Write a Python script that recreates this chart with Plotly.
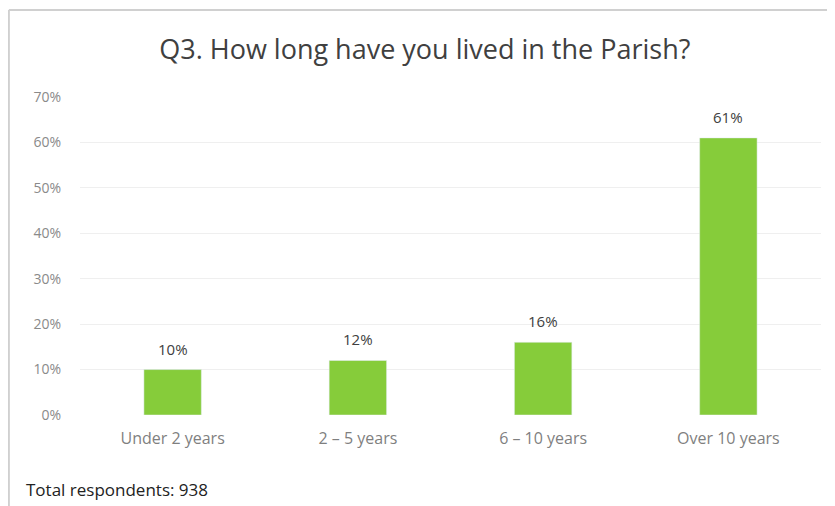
import plotly.graph_objects as go

# data
categories = ["Under 2 years", "2 \u2013 5 years", "6 \u2013 10 years", "Over 10 years"]
percentages = [10, 12, 16, 61]
tick_values = [0, 10, 20, 30, 40, 50, 60, 70]
tick_labels = ["0%", "10%", "20%", "30%", "40%", "50%", "60%", "70%"]

# the page body adds an 8px margin, so the figure is a little smaller
fig = go.Figure(
    go.Bar(
        x=categories,
        y=percentages,
        marker_color="#86CC3A",
        cliponaxis=False,
    )
)

# value labels above the bars
for cat, val in zip(categories, percentages):
    fig.add_annotation(
        x=cat, y=val, text=f"{val}%",
        yanchor="bottom", yshift=9, showarrow=False,
        font=dict(size=15, color="#404040"),
    )

fig.update_layout(
    width=827,
    height=498,
    margin=dict(l=72, r=14, t=89, b=91),
    paper_bgcolor="white",
    plot_bgcolor="white",
    font=dict(family="Open Sans, Lato, sans-serif"),
    bargap=0.69,
    showlegend=False,
    title=dict(
        text="Q3. How long have you lived in the Parish?",
        x=0.504,
        xanchor="center",
        y=0.916,
        yanchor="middle",
        font=dict(size=27, color="#404040"),
    ),
    xaxis=dict(
        tickfont=dict(size=16, color="#7f7f7f"),
        showline=False,
        ticks="",
        ticklabelstandoff=12,
    ),
    yaxis=dict(
        range=[0, 70],
        tickvals=tick_values,
        ticktext=tick_labels,
        tickfont=dict(size=14, color="#8a8a8a"),
        showgrid=True,
        gridcolor="#efefef",
        zeroline=False,
        ticklabelstandoff=18,
    ),
)

# light frame at top and left, like the cropped screenshot
fig.add_shape(type="line", xref="paper", yref="paper",
              x0=-0.096, x1=1.03, y0=1.2736, y1=1.2736,
              line=dict(color="#d0d0d0", width=2))
fig.add_shape(type="line", xref="paper", yref="paper",
              x0=-0.096, x1=-0.096, y0=1.2736, y1=-0.29,
              line=dict(color="#d0d0d0", width=2))

fig.add_annotation(
    text="Total respondents: 938",
    xref="paper", yref="paper",
    x=-0.075, y=-0.235,
    xanchor="left", yanchor="middle",
    showarrow=False,
    font=dict(size=17, color="#222222"),
)

fig.write_html("out.html")
